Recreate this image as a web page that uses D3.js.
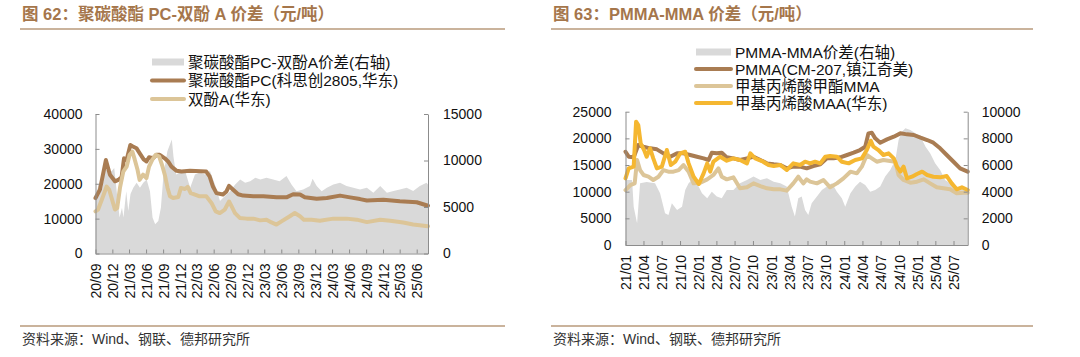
<!DOCTYPE html>
<html><head><meta charset="utf-8">
<script src="https://cdn.jsdelivr.net/npm/d3@7"></script>
<style>
body{margin:0;background:#fff}
svg{display:block}
text{font-family:"Liberation Sans","Noto Sans CJK SC",Arial,sans-serif}
</style></head><body>
<svg id="c" width="1080" height="357"></svg>
<script>
// ---------- Chart 62 data ----------
const pcTicksX = ["20/09","20/12","21/03","21/06","21/09","21/12","22/03","22/06","22/09","22/12","23/03","23/06","23/09","23/12","24/03","24/06","24/09","24/12","25/03","25/06"];
const pcTicksL = [0,10000,20000,30000,40000];
const pcTicksR = [0,5000,10000,15000];
const pcSpread = [
["2020-09-01",5800],["2020-09-17",7430],["2020-10-05",6700],["2020-10-23",9200],["2020-11-10",8700],["2020-11-28",8860],
["2020-12-11",9200],["2020-12-26",6400],["2021-01-09",3860],["2021-01-22",4930],["2021-01-30",3860],["2021-02-14",6700],
["2021-02-25",4570],["2021-03-09",6400],["2021-03-24",7070],["2021-04-11",7600],["2021-04-29",7070],["2021-05-17",7600],
["2021-06-04",7960],["2021-06-22",6700],["2021-07-06",3860],["2021-07-20",3140],["2021-08-06",3500],["2021-08-20",4930],
["2021-09-03",8500],["2021-09-24",11000],["2021-10-18",12250],["2021-10-27",10400],["2021-11-10",8500],["2021-12-01",8700],
["2021-12-29",8860],["2022-01-25",7070],["2022-02-20",8500],["2022-03-19",8700],["2022-04-15",8500],["2022-05-12",8860],
["2022-06-08",7430],["2022-07-05",5640],["2022-08-01",6170],["2022-08-29",6700],["2022-09-25",7430],["2022-10-22",7960],
["2022-11-18",7600],["2022-12-15",7780],["2023-01-12",8140],["2023-02-08",7960],["2023-03-13",8140],["2023-04-18",7960],
["2023-05-23",7780],["2023-06-29",8320],["2023-07-26",7430],["2023-08-22",6700],["2023-09-27",6890],["2023-11-03",7250],
["2023-11-17",8050],["2023-12-09",7250],["2024-01-05",6700],["2024-02-02",7070],["2024-03-08",7430],["2024-04-13",7600],
["2024-05-18",7250],["2024-06-24",7070],["2024-07-30",6890],["2024-09-05",7070],["2024-10-10",6540],["2024-11-16",7250],
["2024-12-22",6540],["2025-01-27",6710],["2025-03-02",6890],["2025-04-08",7070],["2025-05-13",6710],["2025-06-18",7250],
["2025-07-24",7600],["2025-08-01",7430]
];
const pcPrice = [
["2020-09-01",15900],["2020-09-25",18300],["2020-10-27",26800],["2020-11-18",22600],["2020-12-15",20700],["2021-01-02",21100],
["2021-01-20",21900],["2021-02-02",27300],["2021-02-16",26800],["2021-03-08",31100],["2021-03-22",30700],["2021-04-10",30200],
["2021-04-27",28800],["2021-05-19",27000],["2021-06-03",26400],["2021-06-17",27600],["2021-07-08",27300],["2021-07-27",28300],
["2021-08-14",28300],["2021-09-10",27300],["2021-09-28",26400],["2021-10-16",24900],["2021-11-13",23700],["2021-12-09",23500],
["2022-01-24",23700],["2022-04-22",23500],["2022-05-10",22100],["2022-05-28",19200],["2022-06-16",17300],["2022-07-21",16900],
["2022-08-09",17800],["2022-08-23",19400],["2022-09-14",18300],["2022-10-11",17000],["2022-11-07",16600],["2023-01-01",16400],
["2023-02-24",16400],["2023-05-06",16100],["2023-06-29",16100],["2023-08-04",17000],["2023-09-10",16900],["2023-10-06",16100],
["2023-12-09",15700],["2024-02-02",15900],["2024-04-13",16600],["2024-06-06",16100],["2024-07-30",15600],["2024-09-05",15200],
["2024-12-03",15400],["2025-03-02",15000],["2025-06-01",14700],["2025-08-01",13700]
];
const bpaPrice = [
["2020-09-01",12100],["2020-09-15",12600],["2020-10-12",16400],["2020-10-31",19200],["2020-11-14",18300],["2020-11-27",15900],
["2020-12-15",12600],["2020-12-27",13000],["2021-01-11",18800],["2021-01-29",23500],["2021-02-16",24900],["2021-03-04",28300],
["2021-03-19",29200],["2021-04-01",26900],["2021-04-16",24000],["2021-04-27",21100],["2021-05-16",22600],["2021-06-03",21600],
["2021-06-17",24900],["2021-07-05",26900],["2021-07-23",28300],["2021-08-11",27800],["2021-08-29",24900],["2021-09-10",22600],
["2021-09-25",18800],["2021-10-08",16400],["2021-10-25",15900],["2021-11-22",16200],["2021-12-06",18800],["2021-12-28",18500],
["2022-01-12",19100],["2022-01-28",17300],["2022-02-20",16900],["2022-03-17",16400],["2022-04-22",16400],["2022-05-20",14500],
["2022-06-12",12100],["2022-07-04",11600],["2022-07-31",12600],["2022-08-23",14900],["2022-09-06",13500],["2022-09-24",11600],
["2022-10-20",10200],["2022-11-26",10000],["2023-01-01",10000],["2023-02-07",9500],["2023-03-13",9700],["2023-04-09",8900],
["2023-05-06",8300],["2023-06-02",9200],["2023-07-17",10700],["2023-08-13",11600],["2023-09-10",10700],["2023-10-01",9700],
["2023-11-12",9700],["2023-12-26",9400],["2024-03-08",10000],["2024-05-18",10000],["2024-07-12",9700],["2024-09-05",9000],
["2024-11-16",9700],["2025-01-09",9400],["2025-03-20",8900],["2025-05-13",8300],["2025-08-01",7800]
];

// ---------- Chart 63 data ----------
const pmTicksX = ["21/01","21/04","21/07","21/10","22/01","22/04","22/07","22/10","23/01","23/04","23/07","23/10","24/01","24/04","24/07","24/10","25/01","25/04","25/07"];
const pmTicksL = [0,5000,10000,15000,20000,25000];
const pmTicksR = [0,2000,4000,6000,8000,10000];
const pmSpread = [
["2021-01-01",4880],["2021-02-03",4880],["2021-02-11",2870],["2021-02-28",1630],["2021-03-15",4630],["2021-04-17",4730],
["2021-05-29",4630],["2021-06-23",3880],["2021-07-18",2380],["2021-08-04",2250],["2021-08-21",3130],["2021-09-16",2630],
["2021-10-11",2870],["2021-10-27",4130],["2021-11-13",4630],["2021-11-30",4880],["2021-12-25",4630],["2022-01-19",3880],
["2022-02-14",3500],["2022-03-09",4000],["2022-04-03",3630],["2022-04-28",3500],["2022-05-23",4130],["2022-06-25",4130],
["2022-07-28",4630],["2022-09-01",4880],["2022-10-04",5130],["2022-11-07",4880],["2022-12-10",5000],["2023-01-13",4750],
["2023-02-15",4630],["2023-03-19",4380],["2023-04-13",2870],["2023-04-29",2130],["2023-05-16",3500],["2023-06-02",3630],
["2023-06-19",2630],["2023-07-05",2250],["2023-07-22",3130],["2023-08-17",3630],["2023-09-11",4130],["2023-10-06",4380],
["2023-11-01",4630],["2023-11-25",4000],["2023-12-20",3500],["2024-01-06",2870],["2024-02-01",3880],["2024-02-25",4380],
["2024-03-20",4750],["2024-04-15",4500],["2024-05-10",4000],["2024-06-04",4130],["2024-06-29",4380],["2024-07-24",5130],
["2024-08-18",5630],["2024-09-13",6380],["2024-09-29",7880],["2024-10-16",8500],["2024-11-02",8750],["2024-11-27",8630],
["2024-12-22",8380],["2025-01-17",8130],["2025-02-11",7380],["2025-03-06",6880],["2025-03-31",6130],["2025-04-25",5630],
["2025-05-20",4880],["2025-06-14",4630],["2025-07-17",4380],["2025-08-20",4250],["2025-09-10",4130]
];
const pmmaPrice = [
["2021-01-01",17490],["2021-01-17",16560],["2021-02-11",16440],["2021-03-06",18750],["2021-04-01",18430],["2021-05-04",18130],
["2021-06-07",17940],["2021-07-10",17190],["2021-08-13",16560],["2021-09-16",17190],["2021-10-18",17190],["2021-11-21",16880],
["2021-12-25",16560],["2022-01-27",16250],["2022-02-21",15940],["2022-03-09",17310],["2022-04-03",17190],["2022-04-28",17310],
["2022-05-23",16440],["2022-06-25",16250],["2022-07-28",15940],["2022-09-01",16250],["2022-10-04",16560],["2022-11-07",15940],
["2022-12-10",15310],["2023-01-13",15130],["2023-02-15",15000],["2023-03-19",14380],["2023-04-21",14690],["2023-05-25",14690],
["2023-06-27",14380],["2023-07-30",14810],["2023-09-03",15130],["2023-10-06",16250],["2023-11-09",16250],["2023-12-12",16440],
["2024-01-15",16880],["2024-02-17",17310],["2024-03-20",17810],["2024-04-15",18430],["2024-05-01",20940],["2024-05-18",21060],
["2024-06-04",20000],["2024-06-29",19190],["2024-08-02",19810],["2024-09-05",20310],["2024-10-08",20940],["2024-11-10",20750],
["2024-12-14",20630],["2025-01-17",20130],["2025-02-19",19690],["2025-03-22",19190],["2025-04-25",18130],["2025-05-28",16880],
["2025-07-01",15620],["2025-08-03",14380],["2025-09-10",13750]
];
const mmaPrice = [
["2021-01-01",10310],["2021-01-25",11250],["2021-02-16",11560],["2021-02-28",15940],["2021-03-15",14060],["2021-04-01",13130],
["2021-04-26",12810],["2021-05-20",12190],["2021-06-15",12810],["2021-07-10",14060],["2021-08-04",13750],["2021-08-29",13750],
["2021-09-24",14060],["2021-10-18",15000],["2021-11-13",13750],["2021-12-08",11560],["2022-01-11",11690],["2022-02-14",12310],
["2022-03-17",13130],["2022-04-11",14380],["2022-04-28",12810],["2022-05-23",12310],["2022-06-25",12690],["2022-07-28",10630],
["2022-09-01",10820],["2022-10-04",11560],["2022-11-07",11060],["2022-12-10",10630],["2023-01-13",10440],["2023-02-15",10440],
["2023-03-19",10190],["2023-04-21",11560],["2023-05-16",12810],["2023-06-10",11560],["2023-06-27",12310],["2023-07-14",11880],
["2023-08-17",11560],["2023-09-19",12190],["2023-10-22",10820],["2023-11-25",11560],["2023-12-28",12500],["2024-02-01",13750],
["2024-03-04",13440],["2024-03-29",14690],["2024-04-23",16880],["2024-05-18",16250],["2024-06-12",15620],["2024-07-15",15940],
["2024-08-18",15750],["2024-09-13",15620],["2024-09-29",13130],["2024-10-24",12190],["2024-11-27",11690],["2024-12-30",11880],
["2025-02-02",12310],["2025-03-06",11560],["2025-04-08",10820],["2025-05-11",10630],["2025-06-14",10440],["2025-07-17",9690],
["2025-08-20",9810],["2025-09-10",9810]
];
const maaPrice = [
["2021-01-01",12500],["2021-01-17",14380],["2021-02-11",14690],["2021-02-23",23120],["2021-03-06",22500],["2021-03-18",19070],
["2021-04-04",17810],["2021-04-17",16560],["2021-05-04",18130],["2021-05-20",16250],["2021-06-07",14380],["2021-07-02",14690],
["2021-07-27",17810],["2021-08-16",15000],["2021-09-07",15620],["2021-10-02",17190],["2021-10-27",17490],["2021-11-13",15310],
["2021-12-08",12810],["2022-01-03",11440],["2022-01-27",13440],["2022-02-14",15310],["2022-03-01",13750],["2022-03-17",15620],
["2022-04-20",16560],["2022-05-23",15810],["2022-06-25",16250],["2022-07-28",15940],["2022-09-01",15310],["2022-09-18",17190],
["2022-10-12",16250],["2022-11-15",15750],["2022-12-18",15000],["2023-01-13",14810],["2023-02-15",15000],["2023-03-19",14060],
["2023-04-21",15310],["2023-05-25",15000],["2023-06-19",15620],["2023-07-14",15310],["2023-08-08",15620],["2023-09-03",15310],
["2023-09-28",16560],["2023-10-22",16690],["2023-11-25",16560],["2023-12-20",15620],["2024-01-23",15310],["2024-02-25",15940],
["2024-03-29",16250],["2024-04-23",17810],["2024-05-13",19560],["2024-05-26",18440],["2024-06-20",17810],["2024-07-15",16880],
["2024-08-10",17190],["2024-09-05",16250],["2024-09-21",14690],["2024-10-08",13750],["2024-10-24",14690],["2024-11-10",12500],
["2024-12-05",12810],["2024-12-30",13310],["2025-01-25",13750],["2025-02-19",13130],["2025-03-22",12810],["2025-04-25",12690],
["2025-05-28",12940],["2025-06-22",11560],["2025-07-17",10440],["2025-08-12",10820],["2025-09-10",10310]
];

// ---------- drawing ----------
const svg = d3.select("#c");
const parse = d3.timeParse("%Y-%m-%d");
const parseTick = d3.timeParse("%y/%m");
const AXIS = "#8c8c8c";

function panel(o){
  const x = d3.scaleTime().domain([parse(o.start), parse(o.end)]).range([o.x0, o.x1]);
  const yL = d3.scaleLinear().domain([0, o.lMax]).range([o.y0, o.y1]);
  const yR = d3.scaleLinear().domain([0, o.rMax]).range([o.y0, o.y1]);

  svg.append("text").attr("x", o.tx).attr("y", 19.5).attr("font-size", 16.5)
    .attr("font-weight", "bold").attr("fill", "#a5764b").text(o.title);
  svg.append("line").attr("x1", o.rx0).attr("x2", o.rx1).attr("y1", 29).attr("y2", 29)
    .attr("stroke", "#b99a7b").attr("stroke-width", 1.5);
  svg.append("line").attr("x1", o.rx0).attr("x2", o.rx1).attr("y1", 326).attr("y2", 326)
    .attr("stroke", "#b99a7b").attr("stroke-width", 1.5);
  svg.append("text").attr("x", o.tx).attr("y", 344).attr("font-size", 14).attr("fill", "#333")
    .text("资料来源：Wind、钢联、德邦研究所");

  const area = d3.area().x(d => x(parse(d[0]))).y0(o.y0).y1(d => yR(d[1]));
  svg.append("path").datum(o.spread).attr("d", area).attr("fill", "#d9d9d9");

  const line = d3.line().x(d => x(parse(d[0]))).y(d => yL(d[1]));
  o.lines.forEach(l => {
    svg.append("path").datum(l.data).attr("d", line).attr("fill", "none")
      .attr("stroke", l.color).attr("stroke-width", 4)
      .attr("stroke-linejoin", "round").attr("stroke-linecap", "round");
  });

  const gL = svg.append("g").attr("transform", `translate(${o.x0},0)`)
    .call(d3.axisLeft(yL).tickValues(o.lTicks).tickSize(-4).tickSizeOuter(0).tickPadding(o.padL).tickFormat(d3.format("d")));
  const gR = svg.append("g").attr("transform", `translate(${o.x1},0)`)
    .call(d3.axisRight(yR).tickValues(o.rTicks).tickSize(-4).tickSizeOuter(0).tickPadding(o.padR).tickFormat(d3.format("d")));
  const gX = svg.append("g").attr("transform", `translate(0,${o.y0})`)
    .call(d3.axisBottom(x).tickValues(o.xTicks.map(t => parseTick(t))).tickSize(-4).tickSizeOuter(0)
      .tickFormat((d, i) => o.xTicks[i]));
  gX.selectAll(".tick text").attr("transform", "rotate(-90)").attr("x", -10).attr("y", 0)
    .attr("dy", "0.36em").attr("text-anchor", "end");
  [gL, gR, gX].forEach(g => {
    g.selectAll("path.domain").attr("stroke", AXIS);
    g.selectAll(".tick line").attr("stroke", AXIS);
    g.selectAll(".tick text").attr("font-size", 14).attr("fill", "#111")
      .attr("font-family", '"Liberation Sans",Arial,sans-serif');
  });

  o.legend.forEach((it, i) => {
    const yy = o.legY + i * o.legDy;
    if (it.type === "rect") {
      svg.append("rect").attr("x", o.legX).attr("y", yy - 3.5).attr("width", o.legW).attr("height", 7).attr("fill", it.color);
    } else {
      svg.append("line").attr("x1", o.legX).attr("x2", o.legX + o.legW).attr("y1", yy).attr("y2", yy)
        .attr("stroke", it.color).attr("stroke-width", 4).attr("stroke-linecap", "round");
    }
    svg.append("text").attr("x", o.legX + o.legW + 4).attr("y", yy).attr("dy", "0.36em")
      .attr("font-size", 15.5).attr("fill", "#111").text(it.label);
  });
}

panel({
  title: "图 62：聚碳酸酯 PC-双酚 A 价差（元/吨）", tx: 22, rx0: 20, rx1: 505,
  start: "2020-09-01", end: "2025-08-01", x0: 95.5, x1: 428, y0: 253.5, y1: 114,
  lMax: 40000, rMax: 15000, lTicks: pcTicksL, rTicks: pcTicksR, xTicks: pcTicksX, padL: 13, padR: 15,
  spread: pcSpread,
  lines: [{data: pcPrice, color: "#a97c52"}, {data: bpaPrice, color: "#dcc598"}],
  legX: 152, legW: 32, legY: 62, legDy: 18.5,
  legend: [
    {type: "rect", color: "#d9d9d9", label: "聚碳酸酯PC-双酚A价差(右轴)"},
    {type: "line", color: "#a97c52", label: "聚碳酸酯PC(科思创2805,华东)"},
    {type: "line", color: "#dcc598", label: "双酚A(华东)"}
  ]
});

panel({
  title: "图 63：PMMA-MMA 价差（元/吨）", tx: 553, rx0: 551, rx1: 1033,
  start: "2021-01-01", end: "2025-09-10", x0: 625.5, x1: 967.7, y0: 245, y1: 111.7,
  lMax: 25000, rMax: 10000, lTicks: pmTicksL, rTicks: pmTicksR, xTicks: pmTicksX, padL: 14, padR: 14,
  spread: pmSpread,
  lines: [{data: pmmaPrice, color: "#a97c52"}, {data: mmaPrice, color: "#dcc598"}, {data: maaPrice, color: "#f5b731"}],
  legX: 696, legW: 35, legY: 52, legDy: 17,
  legend: [
    {type: "rect", color: "#d9d9d9", label: "PMMA-MMA价差(右轴)"},
    {type: "line", color: "#a97c52", label: "PMMA(CM-207,镇江奇美)"},
    {type: "line", color: "#dcc598", label: "甲基丙烯酸甲酯MMA"},
    {type: "line", color: "#f5b731", label: "甲基丙烯酸MAA(华东)"}
  ]
});
</script>
</body></html>
